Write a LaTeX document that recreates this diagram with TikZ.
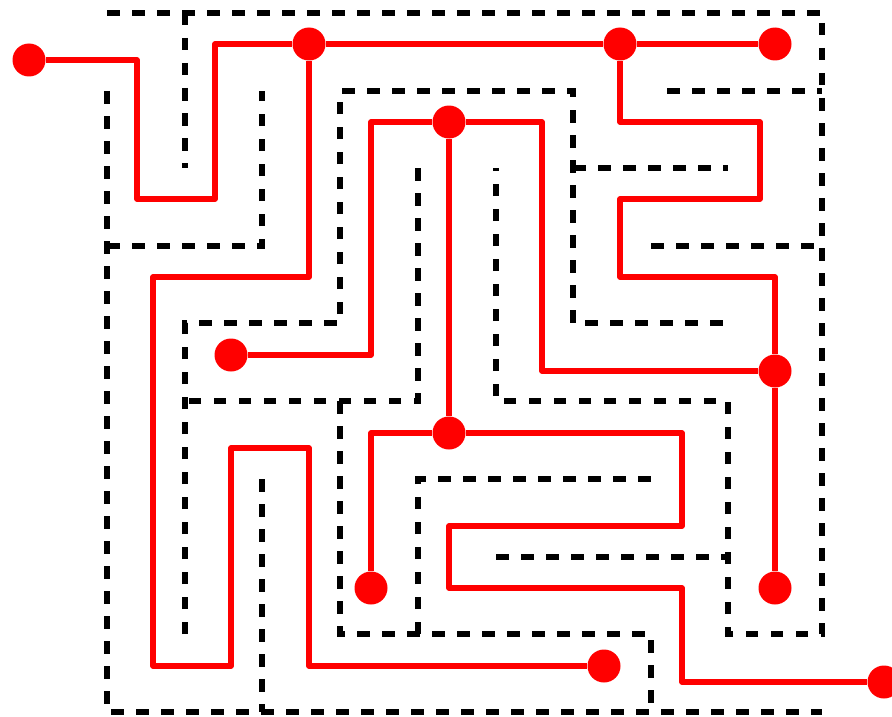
\documentclass[tikz,border=0pt]{standalone}
\usetikzlibrary{positioning}

\begin{document}
\begin{tikzpicture}[
    x=1pt, y=-1pt,
    wall/.style={draw=black, line width=5.5pt, dash pattern=on 12.5pt off 12.5pt},
    route/.style={draw=red, line width=5.5pt, line join=round},
    dot/.style={circle, fill=red, inner sep=0pt, minimum size=33pt}
]
    \useasboundingbox (0,0) rectangle (892,717);

    % maze walls
    \draw[wall] (107,13) -- (822,13) -- (822,634) -- (728,634) -- (728,401) -- (496,401) -- (496,168);
    \draw[wall] (185,13) -- (185,168);
    \draw[wall] (107,91) -- (107,712) -- (822,712);
    \draw[wall] (107,246) -- (262,246) -- (262,91);
    \draw[wall] (418,168) -- (418,401) -- (185,401);
    \draw[wall] (185,634) -- (185,323) -- (340,323) -- (340,91) -- (573,91) -- (573,323) -- (728,323);
    \draw[wall] (573,168) -- (728,168);
    \draw[wall] (667,91) -- (822,91);
    \draw[wall] (651,246) -- (822,246);
    \draw[wall] (340,401) -- (340,634) -- (651,634) -- (651,712);
    \draw[wall] (418,634) -- (418,479) -- (651,479);
    \draw[wall] (496,557) -- (728,557);
    \draw[wall] (262,479) -- (262,712);

    % junctions and ends
    \node[dot] (entry) at (29,60) {};
    \node[dot] (topA) at (309,44) {};
    \node[dot] (topB) at (620,44) {};
    \node[dot] (topEnd) at (775,44) {};
    \node[dot] (midTop) at (449,122) {};
    \node[dot] (deadL) at (231,355) {};
    \node[dot] (forkR) at (775,371) {};
    \node[dot] (midFork) at (449,433) {};
    \node[dot] (deadM) at (371,588) {};
    \node[dot] (deadR) at (775,588) {};
    \node[dot] (deadB) at (604,666) {};
    \node[dot] (exit) at (884,682) {};

    % routes
    \draw[route] (entry) -- (137,60) -- (137,199) -- (215,199) -- (215,44) -- (topA) -- (topB) -- (topEnd);
    \draw[route] (topA) -- (309,277) -- (153,277) -- (153,666) -- (231,666) -- (231,448) -- (309,448) -- (309,666) -- (deadB);
    \draw[route] (topB) -- (620,122) -- (760,122) -- (760,199) -- (620,199) -- (620,277) -- (775,277) -- (forkR) -- (deadR);
    \draw[route] (forkR) -- (542,371) -- (542,122) -- (midTop) -- (371,122) -- (371,355) -- (deadL);
    \draw[route] (midTop) -- (midFork);
    \draw[route] (deadM) -- (371,433) -- (midFork) -- (682,433) -- (682,526) -- (449,526) -- (449,588) -- (682,588) -- (682,682) -- (exit);
\end{tikzpicture}
\end{document}
